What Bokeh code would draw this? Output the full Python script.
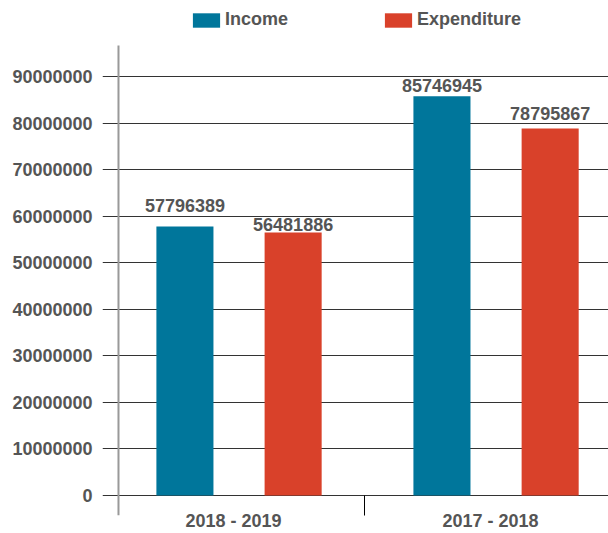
from bokeh.plotting import figure
from bokeh.models import (ColumnDataSource, Range1d, FixedTicker, BasicTickFormatter,
                          Legend, LegendItem, LabelSet)
from bokeh.core.properties import value
from bokeh.transform import dodge
from bokeh.embed import file_html
from bokeh.resources import INLINE

categories = ["2018 - 2019", "2017 - 2018"]
income = [57796389, 85746945]
expenditure = [56481886, 78795867]
y_ticks = [0, 10000000, 20000000, 30000000, 40000000, 50000000,
           60000000, 70000000, 80000000, 90000000]

# label placement (screen px above the bar top), as in the original
income_label_offset = [14, 4]
expenditure_label_offset = [2, 9]

FONT = "Liberation Sans"
TXT = "#555555"
BLUE = "#00769B"
RED = "#D9412A"

idx = list(range(len(categories)))
src = ColumnDataSource(dict(
    x=idx, cat=categories, income=income, expenditure=expenditure,
    income_lbl=[str(v) for v in income], exp_lbl=[str(v) for v in expenditure],
    income_off=income_label_offset, exp_off=expenditure_label_offset,
))

Y_LO, Y_HI = -4296000, 106310000     # plotting range
AXIS_TOP = 96650000                  # where the vertical axis line starts
AXIS_X = -0.4475

p = figure(width=608, height=533, output_backend="svg", toolbar_location=None,
           x_range=Range1d(-0.5097, 1.459), y_range=Range1d(Y_LO, Y_HI),
           min_border_left=102, min_border_top=0, min_border_right=0, min_border_bottom=0)
p.outline_line_color = None
p.background_fill_color = "white"
p.border_fill_color = "white"

OFF_I = -0.189
OFF_E = 0.232
W = 0.222

# vertical axis line (offset from frame edge)
p.segment(x0=[AXIS_X], y0=[Y_LO], x1=[AXIS_X], y1=[AXIS_TOP], line_color="#999999", line_width=2)

r1 = p.vbar(x=dodge("x", OFF_I), top="income", bottom=0, width=W, source=src,
            fill_color=BLUE, line_color=None)
r2 = p.vbar(x=dodge("x", OFF_E), top="expenditure", bottom=0, width=W, source=src,
            fill_color=RED, line_color=None)

for col, off, top, yoff in (("income_lbl", OFF_I, "income", "income_off"),
                            ("exp_lbl", OFF_E, "expenditure", "exp_off")):
    p.add_layout(LabelSet(x=dodge("x", off), y=top, text=col, source=src,
                          text_align="center", text_baseline="alphabetic", y_offset=yoff,
                          text_font=value(FONT), text_font_style="bold",
                          text_font_size="18px", text_color=TXT))

# y axis
p.yaxis.ticker = FixedTicker(ticks=y_ticks)
p.yaxis.formatter = BasicTickFormatter(use_scientific=False)
p.yaxis.axis_line_color = None
p.yaxis.major_tick_out = 0
p.yaxis.major_tick_in = 0
p.yaxis.minor_tick_line_color = None
p.yaxis.major_label_standoff = 10
p.yaxis.major_label_text_font = FONT
p.yaxis.major_label_text_font_style = "bold"
p.yaxis.major_label_text_font_size = "18px"
p.yaxis.major_label_text_color = TXT

p.ygrid.ticker = FixedTicker(ticks=y_ticks)
p.ygrid.grid_line_color = "#333333"
p.ygrid.grid_line_width = 1
p.xgrid.grid_line_color = None

# x axis
p.xaxis.ticker = FixedTicker(ticks=idx, minor_ticks=[0.51])
p.xaxis.major_label_overrides = {i: c for i, c in zip(idx, categories)}
p.xaxis.axis_line_color = None
p.xaxis.major_tick_out = 0
p.xaxis.major_tick_in = 0
p.xaxis.minor_tick_in = 20
p.xaxis.minor_tick_out = 0
p.xaxis.minor_tick_line_color = "black"
p.xaxis.major_label_standoff = -5
p.xaxis.major_label_text_font = FONT
p.xaxis.major_label_text_font_style = "bold"
p.xaxis.major_label_text_font_size = "18px"
p.xaxis.major_label_text_color = TXT

legend = Legend(items=[LegendItem(label="Income", renderers=[r1]),
                       LegendItem(label="Expenditure", renderers=[r2])],
                orientation="horizontal", location=(87, 485),
                glyph_width=34, glyph_height=18, label_height=14, label_standoff=2,
                spacing=93, padding=0, margin=0, border_line_color=None,
                background_fill_alpha=0,
                label_text_font=FONT, label_text_font_style="bold",
                label_text_font_size="18px", label_text_color=TXT)
p.add_layout(legend, "center")

open("out.html", "w").write(file_html(p, INLINE))
